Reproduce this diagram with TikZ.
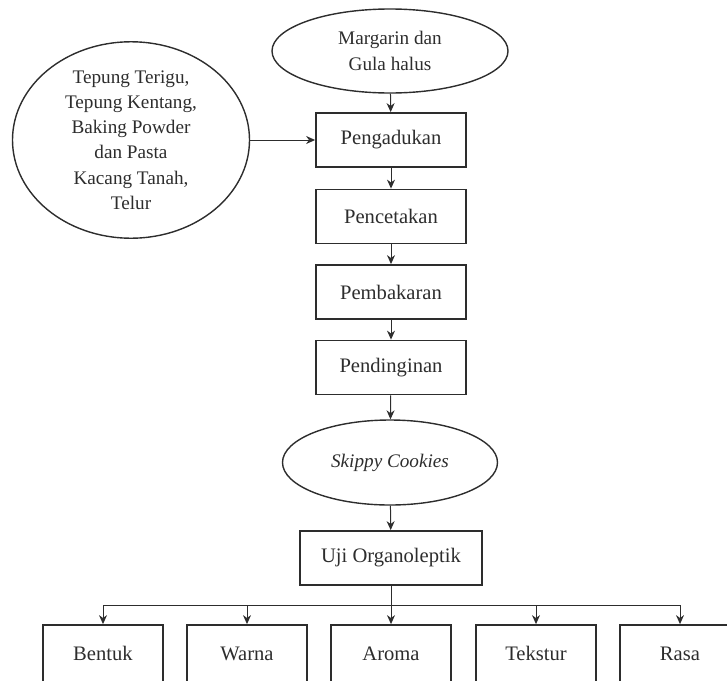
\documentclass[tikz,border=0pt]{standalone}
\usepackage{fontspec}
\setmainfont{Liberation Serif}
\usetikzlibrary{shapes.geometric,arrows.meta}

\begin{document}
\begin{tikzpicture}[x=0.5pt,y=-0.5pt,
    txt/.style={font=\fontsize{10.3}{12.6}\selectfont, text=ink},
    proc/.style={txt, draw=ink, line width=0.9pt, minimum width=75pt, minimum height=27pt, inner sep=0pt},
    input/.style={txt, font=\fontsize{9.6}{12.6}\selectfont, ellipse, draw=ink, line width=0.7pt, align=center, inner sep=0pt},
    aspek/.style={proc, minimum width=60pt, minimum height=28.5pt},
    arr/.style={draw=ink, line width=0.5pt, -{Stealth[length=4.5pt,width=4pt]}}]
    % Colours
    \definecolor{ink}{RGB}{45,45,45}

    \useasboundingbox (0,0) rectangle (727,680);

    % Bahan
    \node[input, minimum width=118pt, minimum height=42pt] (margarin) at (390,51)
        {Margarin dan\\Gula halus};
    \node[input, minimum width=118.5pt, minimum height=96.5pt] (bahan) at (131,140)
        {Tepung Terigu,\\Tepung Kentang,\\Baking Powder\\dan Pasta\\Kacang Tanah,\\Telur};

    % Proses
    \node[proc] (aduk) at (391,140) {Pengadukan};
    \node[proc] (cetak) at (391,216.5) {Pencetakan};
    \node[proc] (bakar) at (391,292) {Pembakaran};
    \node[proc] (dingin) at (391,367.5) {Pendinginan};

    % Produk
    \node[input, minimum width=107.5pt, minimum height=42.5pt] (cookies) at (390,462.5)
        {\itshape Skippy Cookies};
    \node[proc, minimum width=91pt] (uji) at (391,558) {Uji Organoleptik};

    % Aspek uji
    \node[aspek] (bentuk) at (103,653.5) {Bentuk};
    \node[aspek] (warna) at (247,653.5) {Warna};
    \node[aspek] (aroma) at (391,653.5) {Aroma};
    \node[aspek] (tekstur) at (536,653.5) {Tekstur};
    \node[aspek] (rasa) at (680,653.5) {Rasa};
    \coordinate (cabang) at (391,605);

    % Arrows
    \draw[arr] (margarin) -- (aduk);
    \draw[arr] (bahan) -- (aduk);
    \draw[arr] (aduk) -- (cetak);
    \draw[arr] (cetak) -- (bakar);
    \draw[arr] (bakar) -- (dingin);
    \draw[arr] (dingin) -- (cookies);
    \draw[arr] (cookies) -- (uji);
    \draw[arr] (uji) -- (aroma);
    \draw[draw=ink, line width=0.5pt] (bentuk |- cabang) -- (rasa |- cabang);
    \foreach \n in {bentuk,warna,tekstur,rasa}
        \draw[arr] (\n |- cabang) -- (\n);

\end{tikzpicture}
\end{document}
